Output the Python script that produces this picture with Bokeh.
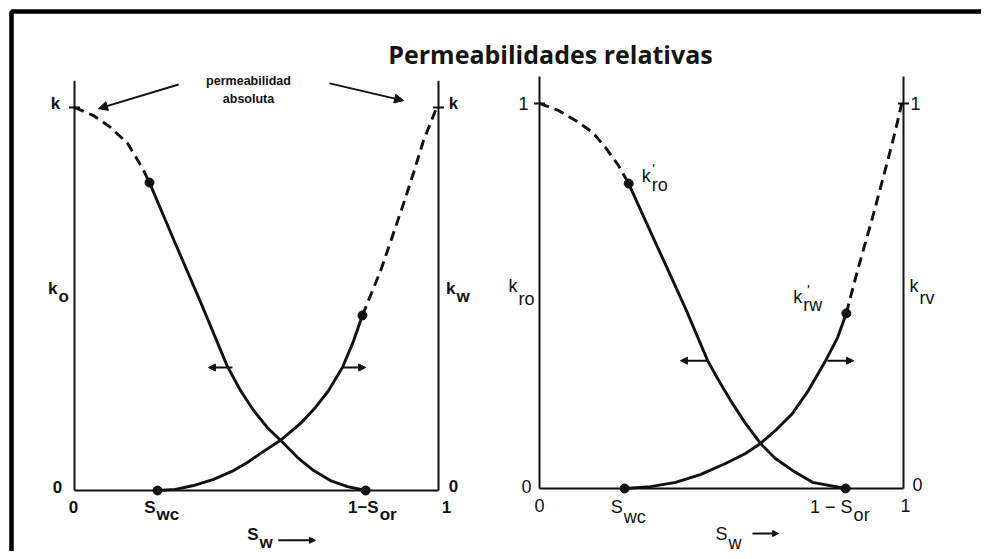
from bokeh.plotting import figure
from bokeh.models import Range1d, Arrow, NormalHead, Label
from bokeh.core.properties import value
from bokeh.embed import file_html
from bokeh.resources import INLINE

TITLE = "Permeabilidades relativas"

# ---------------- data (Sw fraction, permeability as fraction of k) ----------------
# Left panel: absolute permeabilities k_o, k_w
L_SWC = 0.228
L_1SOR = 0.80
L_OIL_DASH_SW = [0.0, 0.052, 0.099, 0.146, 0.187, 0.206]
L_OIL_DASH_K = [1.0, 0.979, 0.948, 0.906, 0.841, 0.804]
L_OIL_SW = [0.206, 0.277, 0.349, 0.420, 0.456, 0.492, 0.530, 0.566, 0.613, 0.657, 0.703, 0.750, 0.80]
L_OIL_K = [0.804, 0.645, 0.486, 0.324, 0.261, 0.209, 0.164, 0.131, 0.086, 0.052, 0.026, 0.010, 0.0]
L_WAT_SW = [0.228, 0.277, 0.327, 0.382, 0.437, 0.475, 0.511, 0.566, 0.621, 0.662, 0.698, 0.736, 0.764, 0.791]
L_WAT_K = [0.0, 0.003, 0.013, 0.029, 0.052, 0.073, 0.097, 0.131, 0.175, 0.217, 0.261, 0.321, 0.384, 0.457]
L_WAT_DASH_SW = [0.791, 0.841, 0.876, 0.904, 0.931, 0.959, 0.995]
L_WAT_DASH_K = [0.457, 0.574, 0.671, 0.749, 0.828, 0.914, 1.0]
L_ARROW_K = 0.321
L_OIL_ARROW_SW = [0.434, 0.368]
L_WAT_ARROW_SW = [0.736, 0.80]

# Right panel: relative permeabilities k_ro, k_rw
R_SWC = 0.234
R_1SOR = 0.841
R_OIL_DASH_SW = [0.0, 0.052, 0.099, 0.146, 0.181, 0.217, 0.245]
R_OIL_DASH_K = [1.0, 0.982, 0.956, 0.925, 0.886, 0.839, 0.792]
R_OIL_SW = [0.245, 0.291, 0.346, 0.401, 0.462, 0.492, 0.530, 0.566, 0.607, 0.648, 0.695, 0.750, 0.841]
R_OIL_K = [0.792, 0.696, 0.582, 0.468, 0.332, 0.281, 0.221, 0.169, 0.117, 0.078, 0.047, 0.016, 0.0]
R_WAT_SW = [0.234, 0.305, 0.374, 0.442, 0.511, 0.566, 0.607, 0.651, 0.695, 0.739, 0.786, 0.819, 0.843]
R_WAT_K = [0.0, 0.005, 0.016, 0.036, 0.065, 0.091, 0.117, 0.153, 0.195, 0.255, 0.332, 0.392, 0.455]
R_WAT_DASH_SW = [0.843, 0.854, 0.876, 0.915, 0.937, 0.959, 0.978, 0.995]
R_WAT_DASH_K = [0.455, 0.496, 0.574, 0.704, 0.782, 0.860, 0.930, 1.0]
R_ARROW_K = 0.332
R_OIL_ARROW_SW = [0.462, 0.387]
R_WAT_ARROW_SW = [0.791, 0.863]

AXIS_TOP = 1.07

# ---------------- layout ----------------
W, H = 981, 551
INK = "#111111"

p = figure(width=W, height=H, output_backend="svg", toolbar_location=None,
           x_range=Range1d(0, W), y_range=Range1d(0, H),
           min_border=0, min_border_left=0, min_border_right=0,
           min_border_top=0, min_border_bottom=0)
p.xaxis.visible = False
p.yaxis.visible = False
p.grid.visible = False
p.outline_line_color = None
p.background_fill_color = "white"
p.border_fill_color = "white"

# panel frames in canvas pixels: (left, right, bottom_from_bottom, top_from_bottom)
PANELS = {
    "L": (74, 438, H - 490, H - 107),
    "R": (539, 903, H - 488, H - 103),
}
for name, (x0, x1, b0, b1) in PANELS.items():
    sx = x1 - x0
    sy = b1 - b0
    p.extra_x_ranges[name] = Range1d(-x0 / sx, (W - x0) / sx)
    p.extra_y_ranges[name] = Range1d(-b0 / sy, (H - b0) / sy)

# outer frame of the slide
p.line([11, 11, W + 40], [-40, H - 11, H - 11], line_color="black", line_width=4.5)

p.add_layout(Label(x=550, y=H - 53, text=TITLE, text_align="center",
                   text_baseline="alphabetic", text_font="Open Sans",
                   text_font_style="bold", text_font_size="25px",
                   text_color="#141414"))


def txt(panel, x, y, s, dx=0, dy=0, size="17px", bold=True, align="center",
        font="Liberation Sans"):
    p.text(x=[x], y=[y], text=[s], x_range_name=panel, y_range_name=panel,
           x_offset=dx, y_offset=dy, text_font=value(font),
           text_font_size=value(size),
           text_font_style="bold" if bold else "normal",
           text_align=align, text_baseline="middle", text_color=INK)


def sub_label(panel, x, y, main, sub, dx, dy_main, dy_sub, size, bold):
    txt(panel, x, y, main, dx=dx, dy=dy_main, size=size, bold=bold, align="right")
    txt(panel, x, y, sub, dx=dx + 1, dy=dy_sub, size=size, bold=bold, align="left")


def panel_axes(panel):
    kw = dict(x_range_name=panel, y_range_name=panel, line_color=INK, line_width=2)
    p.line([0, 0], [0, AXIS_TOP], **kw)
    p.line([1, 1], [0, AXIS_TOP], **kw)
    p.line([0, 1], [0, 0], **kw)
    p.scatter([0, 1], [1, 1], marker="dash", size=11, line_width=2,
              line_color=INK, x_range_name=panel, y_range_name=panel)


def curves(panel, od_x, od_y, o_x, o_y, w_x, w_y, wd_x, wd_y, swc, sor):
    kw = dict(x_range_name=panel, y_range_name=panel, line_color=INK,
              line_width=2.9, line_join="round")
    p.line(od_x, od_y, line_dash="10 6", **kw)
    p.line(o_x, o_y, **kw)
    p.line(w_x, w_y, **kw)
    p.line(wd_x, wd_y, line_dash="10 6", **kw)
    p.scatter([od_x[-1], wd_x[0], swc, sor], [od_y[-1], wd_y[0], 0, 0],
              size=9, color=INK, x_range_name=panel, y_range_name=panel)


def flow_arrow(panel, xs, y, size=7, lw=2):
    p.add_layout(Arrow(x_start=xs[0], y_start=y, x_end=xs[1], y_end=y,
                       x_range_name=panel, y_range_name=panel,
                       line_color=INK, line_width=lw,
                       end=NormalHead(size=size, fill_color=INK, line_color=INK)))


# ---------------- left panel ----------------
panel_axes("L")
curves("L", L_OIL_DASH_SW, L_OIL_DASH_K, L_OIL_SW, L_OIL_K, L_WAT_SW, L_WAT_K,
       L_WAT_DASH_SW, L_WAT_DASH_K, L_SWC, L_1SOR)
flow_arrow("L", L_OIL_ARROW_SW, L_ARROW_K)
flow_arrow("L", L_WAT_ARROW_SW, L_ARROW_K)

LS = "17px"
txt("L", 0, 1, "k", dx=-19, dy=-4, size=LS)
txt("L", 1, 1, "k", dx=15, dy=-4, size=LS)
sub_label("L", 0, 0.527, "k", "o", -17, 0, 8, LS, True)
sub_label("L", 1, 0.527, "k", "w", 17, 0, 8, LS, True)
txt("L", 0, 0, "0", dx=-17, dy=-4, size=LS)
txt("L", 1, 0, "0", dx=15, dy=-5, size=LS)
txt("L", 0, 0, "0", dx=-1, dy=16, size=LS)
txt("L", 1, 0, "1", dx=8, dy=16, size=LS)
sub_label("L", L_SWC, 0, "S", "wc", -2, 17, 24, LS, True)
sub_label("L", L_1SOR, 0, "1\u2212S", "or", 13, 17, 24, LS, True)
sub_label("L", 0.5, 0, "S", "w", 2, 44, 52, LS, True)
flow_arrow("L", [0.56, 0.662], -0.13, size=6, lw=2)
txt("L", 0.478, 1.068, "permeabilidad", size="12.5px")
txt("L", 0.478, 1.021, "absoluta", size="12.5px")
p.add_layout(Arrow(x_start=0.286, y_start=1.06, x_end=0.066, y_end=0.997,
                   x_range_name="L", y_range_name="L", line_color=INK, line_width=2,
                   end=NormalHead(size=9, fill_color=INK, line_color=INK)))
p.add_layout(Arrow(x_start=0.701, y_start=1.063, x_end=0.904, y_end=1.018,
                   x_range_name="L", y_range_name="L", line_color=INK, line_width=2,
                   end=NormalHead(size=9, fill_color=INK, line_color=INK)))

# ---------------- right panel ----------------
panel_axes("R")
curves("R", R_OIL_DASH_SW, R_OIL_DASH_K, R_OIL_SW, R_OIL_K, R_WAT_SW, R_WAT_K,
       R_WAT_DASH_SW, R_WAT_DASH_K, R_SWC, R_1SOR)
flow_arrow("R", R_OIL_ARROW_SW, R_ARROW_K)
flow_arrow("R", R_WAT_ARROW_SW, R_ARROW_K)

RS = "18px"
txt("R", 0, 1, "1", dx=-16, size=RS, bold=False)
txt("R", 1, 1, "1", dx=12, size=RS, bold=False)
sub_label("R", 0, 0.525, "k", "ro", -22, 0, 13, RS, False)
sub_label("R", 1, 0.525, "k", "rv", 15, 0, 12, RS, False)
wx, wy = R_WAT_DASH_SW[0], R_WAT_DASH_K[0]
sub_label("R", wx, wy, "k", "rw", -44, -16, -8, RS, False)
txt("R", wx, wy, "'", dx=-38, dy=-24, size="15px", bold=False)
ox, oy = R_OIL_DASH_SW[-1], R_OIL_DASH_K[-1]
sub_label("R", ox, oy, "k", "ro", 22, -8, 1, RS, False)
txt("R", ox, oy, "'", dx=25, dy=-15, size="15px", bold=False)
txt("R", 0, 0, "0", dx=-13, dy=-2, size=RS, bold=False)
txt("R", 1, 0, "0", dx=14, dy=-4, size=RS, bold=False)
txt("R", 0, 0, "0", dy=17, size=RS, bold=False)
txt("R", 1, 0, "1", dx=2, dy=17, size=RS, bold=False)
sub_label("R", R_SWC, 0, "S", "wc", -2, 18, 28, RS, False)
sub_label("R", R_1SOR, 0, "1 \u2212 S", "or", 7, 18, 26, RS, False)
sub_label("R", 0.5, 0, "S", "w", 6, 45, 54, RS, False)
flow_arrow("R", [0.585, 0.657], -0.117, size=6, lw=2)

open("out.html", "w").write(file_html(p, INLINE))
